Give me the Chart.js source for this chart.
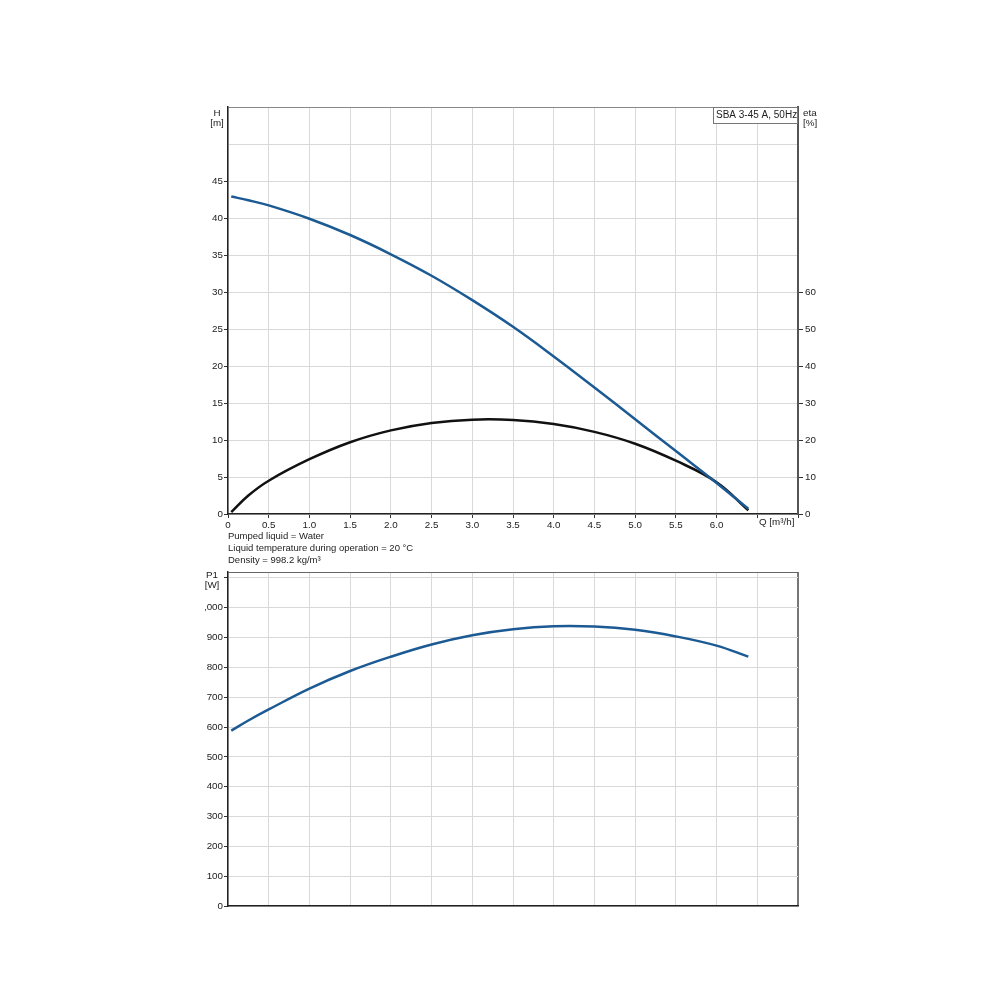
<!DOCTYPE html>
<html>
<head>
<meta charset="utf-8">
<script src="https://cdn.jsdelivr.net/npm/chart.js@4"></script>
<style>
  body { margin: 0; background: #fff; }
  #wrap { position: relative; width: 1000px; height: 1000px; font-family: 'Liberation Sans', Arial, sans-serif; }
  #top { position: absolute; left: 0; top: 0; }
  #bottom { position: absolute; left: 205px; top: 540px; }
  .info { position: absolute; left: 228px; font-size: 9.5px; color: #222; line-height: 12.2px; top: 530px; z-index: 2; }
</style>
</head>
<body>
<div id="wrap">
  <canvas id="top" width="1000" height="540"></canvas>
  <canvas id="bottom" width="795" height="400"></canvas>
  <div class="info">Pumped liquid = Water<br>Liquid temperature during operation = 20 °C<br>Density = 998.2 kg/m³</div>
</div>
<script>
// curve data
const flowQ = [0.04, 0.25, 0.5, 1.0, 1.5, 2.0, 2.5, 3.0, 3.5, 4.0, 4.5, 5.0, 5.5, 6.0, 6.39];
const headH = [42.9, 42.4, 41.7, 39.9, 37.7, 35.1, 32.2, 28.9, 25.3, 21.3, 17.1, 12.8, 8.5, 4.2, 0.7];
const etaPct = [0.5, 5.0, 9.0, 14.8, 19.4, 22.6, 24.6, 25.5, 25.4, 24.3, 22.2, 19.0, 14.4, 8.6, 1.0];
const powerP1 = [588, 622, 659, 729, 788, 836, 877, 908, 928, 938, 937, 926, 904, 873, 836];
const powerTicks = [0, 100, 200, 300, 400, 500, 600, 700, 800, 900, 1000, 1100, 1120];

const fontFamily = "'Liberation Sans', Arial, sans-serif";
const gridGray = '#d9d9d9';
const blue = '#1c5a93';
Chart.defaults.color = '#222';
Chart.defaults.font = { family: fontFamily, size: 9.8 };

const pts = (ys) => flowQ.map((q, i) => ({ x: q, y: ys[i] }));

function textPlugin(items) {
  return {
    id: 'labels',
    afterDraw(chart) {
      const c = chart.ctx;
      c.save();
      c.textBaseline = 'middle';
      items.forEach(t => {
        c.font = (t.size || 9.8) + 'px ' + fontFamily;
        if (t.box) {
          c.fillStyle = '#fff';
          c.fillRect(t.box[0], t.box[1], t.box[2], t.box[3]);
          c.strokeStyle = '#777';
          c.lineWidth = 1;
          c.strokeRect(t.box[0] + 0.5, t.box[1] + 0.5, t.box[2], t.box[3]);
        }
        c.fillStyle = '#222';
        c.textAlign = t.align || 'left';
        c.fillText(t.text, t.x, t.y);
      });
      c.restore();
    }
  };
}

const curve = { pointRadius: 0, borderWidth: 2.5, tension: 0.4 };

new Chart(document.getElementById('top'), {
  type: 'line',
  data: {
    datasets: [
      { ...curve, label: 'H', data: pts(headH), yAxisID: 'y', borderColor: blue },
      { ...curve, label: 'eta', data: pts(etaPct), yAxisID: 'y2', borderColor: '#111' }
    ]
  },
  options: {
    responsive: false,
    animation: false,
    layout: { padding: { top: 107, left: 0, right: 0, bottom: 0 } },
    plugins: { legend: { display: false }, tooltip: { enabled: false } },
    scales: {
      x: {
        type: 'linear', min: 0, max: 7,
        afterFit: s => { s.height = 26; },
        ticks: { stepSize: 0.5, autoSkip: false, maxRotation: 0, padding: 1,
          callback: v => v > 6.01 ? '' : (v === 0 ? '0' : v.toFixed(1)) },
        grid: { color: gridGray, tickLength: 4, tickColor: '#333' },
        border: { color: '#222', width: 1.5 }
      },
      y: {
        position: 'left', min: 0, max: 55,
        afterFit: s => { s.width = 228; },
        ticks: { stepSize: 5, padding: 1, callback: v => v <= 45 ? v : '' },
        grid: {
          color: c => c.tick && c.tick.value >= 55 ? '#888' : gridGray,
          tickLength: 4,
          tickColor: c => c.tick && c.tick.value <= 45 ? '#333' : 'rgba(0,0,0,0)'
        },
        border: { color: '#222', width: 1.5 }
      },
      y2: {
        position: 'right', min: 0, max: 110,
        afterFit: s => { s.width = 202; },
        ticks: { stepSize: 10, padding: 2, callback: v => v <= 60 ? v : '' },
        grid: {
          drawOnChartArea: false, tickLength: 5,
          tickColor: c => c.tick && c.tick.value <= 60 ? '#333' : 'rgba(0,0,0,0)'
        },
        border: { color: '#555', width: 2 }
      }
    }
  },
  plugins: [textPlugin([
    { text: 'H', x: 217, y: 113, align: 'center' },
    { text: '[m]', x: 217, y: 123, align: 'center' },
    { text: 'eta', x: 803, y: 113 },
    { text: '[%]', x: 803, y: 123 },
    { text: 'SBA 3-45 A, 50Hz', x: 716, y: 115, size: 10, box: [713, 107, 84, 16] },
    { text: 'Q [m³/h]', x: 759, y: 522 }
  ])]
});

new Chart(document.getElementById('bottom'), {
  type: 'line',
  data: {
    datasets: [
      { ...curve, label: 'P1', data: pts(powerP1), borderColor: blue }
    ]
  },
  options: {
    responsive: false,
    animation: false,
    layout: { padding: { top: 32, left: 0, right: 202, bottom: 0 } },
    plugins: { legend: { display: false }, tooltip: { enabled: false } },
    scales: {
      x: {
        type: 'linear', min: 0, max: 7,
        afterFit: s => { s.height = 34; },
        ticks: { display: false, stepSize: 0.5 },
        grid: {
          color: c => c.tick && c.tick.value >= 7 ? '#777' : gridGray,
          lineWidth: c => c.tick && c.tick.value >= 7 ? 2 : 1,
          drawTicks: false
        },
        border: { color: '#222', width: 1.5 }
      },
      y: {
        min: 0, max: 1120,
        afterFit: s => { s.width = 23; },
        afterBuildTicks: s => { s.ticks = powerTicks.map(v => ({ value: v })); },
        ticks: { padding: 1, callback: v => v > 1000 ? '' : (v === 1000 ? '1,000' : v) },
        grid: {
          color: c => c.tick && c.tick.value > 1100 ? '#666' : gridGray,
          tickLength: 4,
          tickColor: c => c.tick && c.tick.value <= 1100 ? '#333' : 'rgba(0,0,0,0)'
        },
        border: { color: '#222', width: 1.5 }
      }
    }
  },
  plugins: [textPlugin([
    { text: 'P1', x: 7, y: 35, align: 'center' },
    { text: '[W]', x: 7, y: 45, align: 'center' }
  ])]
});
</script>
</body>
</html>
